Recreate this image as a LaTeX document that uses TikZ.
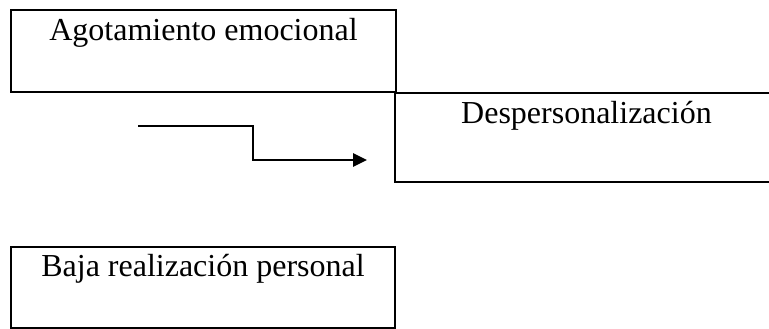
\documentclass[tikz,border=0pt]{standalone}
\usepackage{fontspec}
\setmainfont{Liberation Serif}
\usetikzlibrary{arrows.meta}

\tikzset{
	dimbox/.style={draw, line width=1.6pt, inner xsep=0pt, inner ysep=0pt, anchor=north,
		font=\fontsize{24}{28}\selectfont, text height=22.5pt}
}

\begin{document}
\begin{tikzpicture}[x=0.75pt,y=-0.75pt]
		\useasboundingbox (0,0) rectangle (769,329); % page size
		\node[dimbox, minimum width=288.75pt, text depth=39pt] (agot) at (203.5,9) {Agotamiento emocional};
		\node[dimbox, minimum width=287.25pt, text depth=44.25pt] (desp) at (586.5,92) {Despersonalización};
		\node[dimbox, minimum width=288pt, text height=21.75pt, text depth=39pt] (baja) at (203,246) {Baja realización personal};
		\coordinate (ini) at (138,126); % edit here for the arrow
		\coordinate (fin) at (367,160);
		\draw[line width=1.6pt, -{Triangle[length=10.5pt,width=10pt]}] (ini) -- (253,126) |- (fin);
		\end{tikzpicture}
\end{document}
